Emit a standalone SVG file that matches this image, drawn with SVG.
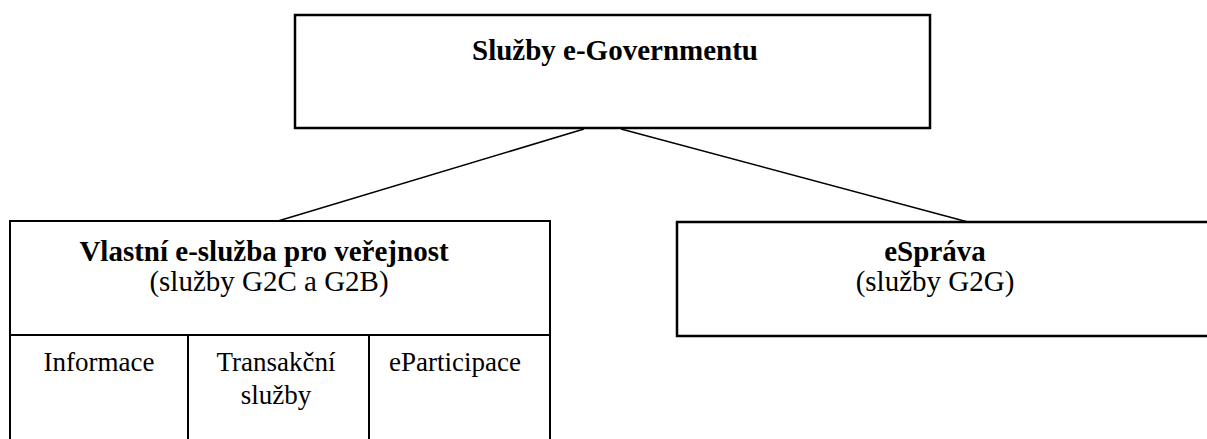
<svg xmlns="http://www.w3.org/2000/svg" width="1207" height="439" viewBox="0 0 1207 439">
<style>
.box{fill:#fff;stroke:#000;stroke-width:2.5}
.thin{fill:none;stroke:#000;stroke-width:2}
.conn{stroke:#000;stroke-width:1.5;fill:none}
text{fill:#000;text-anchor:middle}
.b{font-weight:bold;font-size:29px}
.r{font-size:29px}
.c{font-size:27px}
</style>
<rect width="1207" height="439" fill="#fff"/>
<g id="connectors">
<line class="conn" x1="584" y1="129" x2="278" y2="221"/>
<line class="conn" x1="621" y1="129" x2="968" y2="222"/>
</g>
<g font-family="'Liberation Serif', 'Times New Roman', serif">
<g id="node-root">
<rect class="box" x="295" y="15" width="635" height="113"/>
<text class="b" x="615" y="60">Služby e-Governmentu</text>
</g>
<g id="node-public">
<rect class="thin" x="10" y="221" width="540" height="114"/>
<path class="thin" d="M10 335 V445 M550 335 V445 M188 335 V445 M369 335 V445"/>
<text class="b" x="264" y="261">Vlastní e-služba pro veřejnost</text>
<text class="r" x="269" y="291">(služby G2C a G2B)</text>
</g>
<g id="node-informace">
<text class="c" x="99" y="371">Informace</text>
</g>
<g id="node-transakcni">
<text class="c" x="276" y="371">Transakční</text>
<text class="c" x="276" y="404">služby</text>
</g>
<g id="node-eparticipace">
<text class="c" x="455" y="371">eParticipace</text>
</g>
<g id="node-esprava">
<rect class="box" x="677" y="222" width="540" height="114"/>
<text class="b" x="935" y="261">eSpráva</text>
<text class="r" x="935" y="291">(služby G2G)</text>
</g>
</g>
</svg>
